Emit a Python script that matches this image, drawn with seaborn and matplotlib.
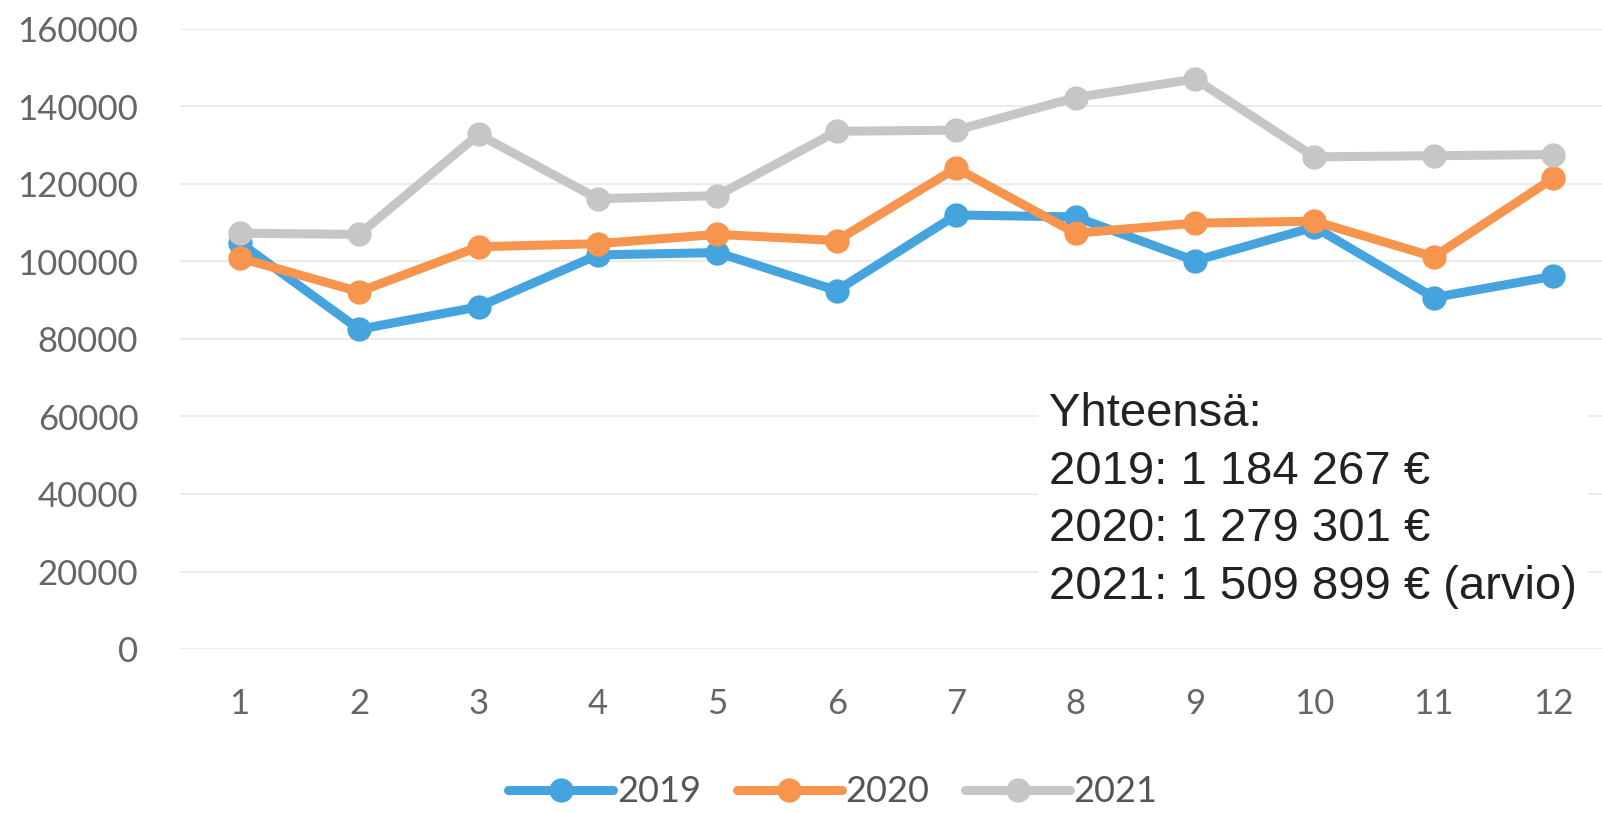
import matplotlib
matplotlib.use("Agg")
import matplotlib.pyplot as plt
import seaborn as sns
import pandas as pd

months = list(range(1, 13))
v2019 = [104900, 82500, 88300, 101700, 102300, 92500, 112000, 111500, 100200, 108900, 90700, 96200]
v2020 = [100900, 92200, 103800, 104600, 107000, 105400, 124100, 107300, 109900, 110400, 101200, 121500]
v2021 = [107300, 107000, 132800, 116200, 117000, 133600, 133900, 142300, 147100, 127000, 127300, 127600]
years = ["2019", "2020", "2021"]
colors = ["#45A3DD", "#F7944E", "#C6C6C6"]
yticks = [0, 20000, 40000, 60000, 80000, 100000, 120000, 140000, 160000]
note_lines = ["Yhteensä:", "2019: 1 184 267 €", "2020: 1 279 301 €", "2021: 1 509 899 € (arvio)"]

df = pd.DataFrame({
    "month": months * 3,
    "value": v2019 + v2020 + v2021,
    "year": [years[0]] * 12 + [years[1]] * 12 + [years[2]] * 12,
})

sns.set_style("white")
plt.rcParams["font.family"] = ["Lato", "DejaVu Sans"]

fig = plt.figure(figsize=(16.02, 8.13), dpi=100)
ax = fig.add_axes([180 / 1602, (813 - 649) / 813, (1613 - 180) / 1602, (649 - 29) / 813])

sns.lineplot(data=df, x="month", y="value", hue="year", palette=colors,
             marker="o", markersize=17.5, markeredgewidth=0, linewidth=6.5,
             ax=ax, legend=True, zorder=3)

ax.set_xlim(0.5, 12.5)
ax.set_ylim(0, 160000)
ax.set_yticks(yticks)
ax.set_yticklabels([str(t) for t in yticks])
ax.set_xticks(months)
ax.set_xticklabels([str(m) for m in months])
ax.tick_params(axis="both", length=0, labelsize=25, labelcolor="#666666")
ax.tick_params(axis="y", pad=30)
ax.tick_params(axis="x", pad=28)
ax.grid(axis="y", color="#E8E8E8", linewidth=1.2, zorder=0)
ax.grid(axis="x", visible=False)
for s in ax.spines.values():
    s.set_visible(False)
ax.set_xlabel("")
ax.set_ylabel("")

handles, labels = ax.get_legend_handles_labels()
ax.legend_.remove()
fig.legend(handles, labels, loc="center", bbox_to_anchor=(0.52, 0.026),
           ncol=3, frameon=False, fontsize=26, handlelength=2.9,
           columnspacing=1.0, handletextpad=0.1, labelcolor="#555555")

fig.text(1049 / 1602, 1 - 392 / 813, "\n".join(note_lines), ha="left", va="top",
         fontsize=34, color="#222222", family=["Liberation Sans", "DejaVu Sans"],
         linespacing=1.4,
         bbox=dict(facecolor="white", edgecolor="none", pad=8), zorder=5)

fig.savefig("out.png", dpi=100)
